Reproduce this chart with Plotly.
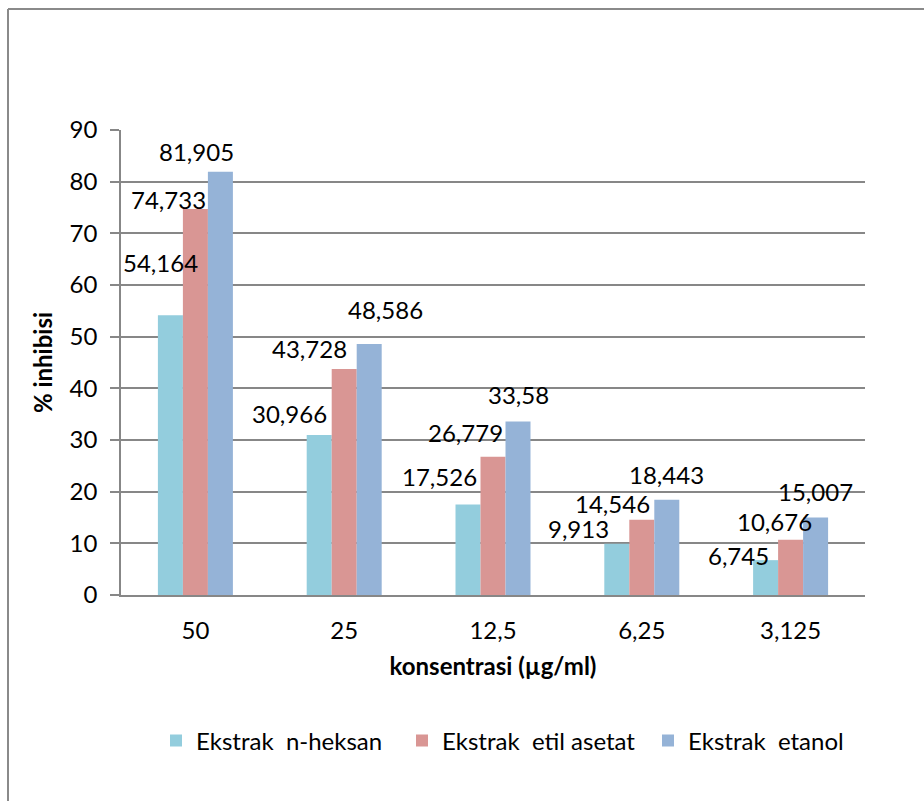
import plotly.graph_objects as go

# Concentrations (µg/ml) shown on the category axis
categories = ["50", "25", "12,5", "6,25", "3,125"]

# % inhibition per extract
n_heksan = [54.164, 30.966, 17.526, 9.913, 6.745]
etil_asetat = [74.733, 43.728, 26.779, 14.546, 10.676]
etanol = [81.905, 48.586, 33.58, 18.443, 15.007]

series_names = ["Ekstrak  n-heksan", "Ekstrak  etil asetat", "Ekstrak  etanol"]
series_values = [n_heksan, etil_asetat, etanol]
colors = ["#93CDDD", "#D99694", "#95B3D7"]

# hand-placed data label offsets (pixels, relative to each bar top centre)
label_dx = [
    [-10, -30, -29, -38, -27],
    [-27, -35, -28, -29, -16],
    [-24, 16, 0, 0, 0],
]
label_dy = [
    [53, 22, 28, 15, 5],
    [9, 21, 24, 16, 18],
    [20, 34, 27, 25, 26],
]
bar_offsets = [-25, 0, 25]

FONT = "Lato, 'Open Sans', sans-serif"
FS = 24
GRID = "#878787"

fig = go.Figure()
for name, vals, col in zip(series_names, series_values, colors):
    fig.add_trace(go.Bar(
        x=categories, y=vals, name=name,
        marker=dict(color=col, line=dict(width=0)),
    ))

def fmt(v):
    return ("%g" % v).replace(".", ",")

# data labels; x is the category index on the category axis
annotations = []
for s, vals in enumerate(series_values):
    for i, v in enumerate(vals):
        annotations.append(dict(
            x=i, y=v, xref="x", yref="y",
            text=fmt(v), showarrow=False,
            xanchor="center", yanchor="middle",
            xshift=bar_offsets[s] + label_dx[s][i],
            yshift=label_dy[s][i],
            font=dict(family=FONT, size=FS, color="#000000"),
        ))

# outer chart frame (left and top edges)
L, T, R, B = 121, 130, 865, 595
def px_x(p):
    return (p - L) / (R - L)
def px_y(p):
    return (B - p) / (B - T)

shapes = [
    dict(type="line", xref="paper", yref="paper",
         x0=px_x(8), x1=px_x(8), y0=px_y(9), y1=px_y(801),
         line=dict(color="#8a8a8a", width=2)),
    dict(type="line", xref="paper", yref="paper",
         x0=px_x(8), x1=px_x(924), y0=px_y(9), y1=px_y(9),
         line=dict(color="#8a8a8a", width=2)),
]

fig.update_layout(
    width=924, height=801,
    margin=dict(l=L, r=924 - R, t=T, b=801 - B, autoexpand=False),
    paper_bgcolor="white", plot_bgcolor="white",
    barmode="group", bargap=0.496, bargroupgap=0,
    font=dict(family=FONT, size=FS, color="#000000"),
    annotations=annotations,
    shapes=shapes,
    showlegend=True,
    legend=dict(
        orientation="h", x=px_x(156), xanchor="left",
        y=px_y(741), yanchor="middle",
        font=dict(family=FONT, size=FS, color="#000000"),
        itemwidth=30, traceorder="normal",
        entrywidth=201, entrywidthmode="pixels",
    ),
    xaxis=dict(
        type="category", range=[-0.5, len(categories) - 0.5],
        showline=True, linecolor=GRID, linewidth=1.5,
        ticks="", showgrid=False,
        tickfont=dict(family=FONT, size=FS),
        ticklabelstandoff=13,
        title=dict(text="<b>konsentrasi (µg/ml)</b>", standoff=16,
                   font=dict(family=FONT, size=FS)),
    ),
    yaxis=dict(
        range=[0, 90], dtick=10, tick0=0,
        showline=True, linecolor=GRID, linewidth=1.5,
        showgrid=True, gridcolor=GRID, gridwidth=1.5,
        zeroline=False,
        ticks="outside", ticklen=9, tickcolor=GRID, tickwidth=1.5,
        tickfont=dict(family=FONT, size=FS),
        ticklabelstandoff=8,
        title=dict(text="<b>% inhibisi</b>", standoff=10,
                   font=dict(family=FONT, size=FS)),
    ),
)

fig.write_html("out.html")
